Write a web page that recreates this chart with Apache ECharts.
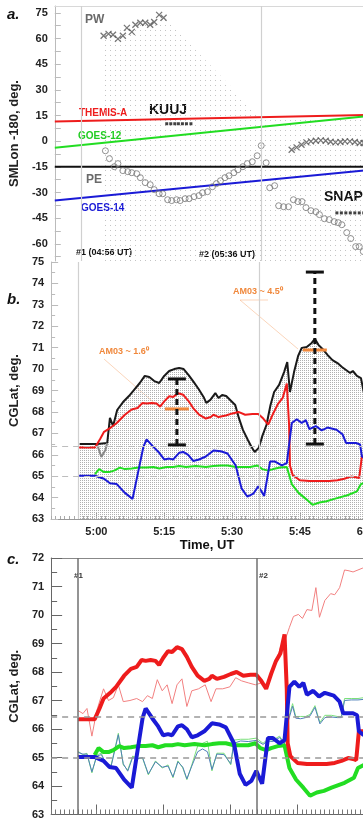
<!DOCTYPE html>
<html>
<head>
<meta charset="utf-8">
<script src="https://cdn.jsdelivr.net/npm/echarts@6/dist/echarts.min.js"></script>
<style>
  html, body { margin: 0; padding: 0; overflow: hidden; background: #fff; }
  #chart { width: 420px; height: 820px; }
</style>
</head>
<body>
<div id="chart"></div>
<script>
// time in minutes of the day (300 = 5:00 UT)
const onsetTimes = [296, 336];          // #1 04:56, #2 05:36
const refLevels = [66.42, 65.0];
const timeTicks = [300, 315, 330, 345, 360];
const smlonLabels = [75, 60, 45, 30, 15, 0, -15, -30, -45, -60];
const smlonTicks = [-67.5, -60, -52.5, -45, -37.5, -30, -22.5, -15, -7.5, 0, 7.5, 15, 22.5, 30, 37.5, 45, 52.5, 60, 67.5, 75];

//#region PANEL A
const pwTime = [300.9, 302.0, 303.0, 304.1, 305.2, 306.1, 307.2, 308.0, 309.1, 310.2, 311.3, 312.2, 313.3, 314.3];
const pwLon = [61.6, 62.7, 62.2, 59.8, 61.6, 66.2, 63.9, 68.0, 69.2, 69.2, 68.0, 69.7, 73.8, 72.1];
const pwLateTime = [342.9, 344.0, 345.1, 346.2, 347.2, 348.3, 349.4, 350.5, 351.6, 352.7, 353.8, 354.8, 355.9, 357.0, 358.1, 359.0];
const pwLateLon = [-5.0, -3.6, -2.1, -0.7, -0.1, 0.3, 0.5, 0.3, -0.3, -0.7, -0.5, -0.1, -0.1, -0.5, -1.1, -1.1];
const peTime = [301.3, 302.2, 303.3, 304.1, 305.2, 306.3, 307.2, 308.3, 309.1, 310.2, 311.3, 312.2, 313.3, 314.1, 315.2,
  316.1, 317.2, 318.0, 319.1, 320.0, 321.1, 322.2, 323.0, 324.1, 325.2, 326.1, 327.0, 328.0, 328.9, 330.0,
  330.9, 332.0, 333.0, 334.1, 335.2, 336.1, 337.2, 338.0, 339.1, 340.0, 341.1, 342.2, 343.3, 344.3, 345.2,
  346.1, 347.2, 348.3, 349.1, 350.2, 351.3, 352.4, 353.3, 354.1, 355.2, 356.1, 357.2, 358.0, 358.9];
const peLon = [-5.6, -10.2, -14.9, -13.1, -17.2, -17.8, -18.4, -19.0, -21.3, -24.2, -25.4, -28.3, -30.7, -30.7, -34.2,
  -34.7, -34.2, -34.7, -33.6, -33.6, -32.4, -31.8, -30.1, -29.5, -26.6, -24.8, -23.1, -21.3, -20.2, -18.4,
  -16.7, -14.9, -13.1, -12.0, -8.5, -2.6, -12.6, -27.2, -26.0, -37.7, -38.3, -38.3, -34.2, -35.3, -35.3,
  -38.8, -40.6, -41.2, -42.9, -45.3, -45.8, -47.0, -47.6, -48.8, -53.4, -56.9, -61.6, -61.6, -64.5];
const satTime = [290, 370];
const themisLon = [11.5, 15.9];
const goes12Lon = [-3.8, 17.4];
const goes14Lon = [-34.7, -14.3];
const refLon = [-15, -15];
const kuujTime = [315.0, 315.9, 316.8, 317.6, 318.5, 319.4, 320.4];
const kuujLon = [10.2, 10.2, 10.2, 10.2, 10.2, 10.2, 10.2];
const snapTime = [353.0, 354.0, 355.0, 356.0, 357.0, 358.0, 359.0];
const snapLon = [-41.9, -41.9, -41.9, -41.9, -41.9, -41.9, -41.9];
const ovalTime = [301, 314.5, 336, 370];
const ovalTop = [62, 72, 14, 14];
//#endregion PANEL A

//#region PANEL B / C
const blackTime = [296.3, 300.2, 302.4, 303.0, 303.7, 304.6, 305.9, 307.2, 308.3, 309.6, 310.7, 311.7, 312.8, 313.9, 315.0,
  316.1, 317.2, 318.3, 319.3, 320.4, 321.5, 322.6, 323.7, 324.3, 325.2, 326.3, 327.0, 327.8, 328.7, 329.8,
  330.7, 331.5, 332.4, 333.5, 334.3, 335.0, 335.9, 336.7, 337.6, 338.5, 339.3, 340.4, 341.5, 342.2, 342.8,
  343.7, 344.6, 345.4, 346.5, 347.6, 348.3, 349.1, 350.0, 351.1, 352.2, 353.3, 354.3, 355.2, 356.1, 356.7,
  357.6, 358.5, 359.1];
const blackLat = [66.50, 66.50, 66.55, 67.72, 67.34, 68.09, 68.46, 68.74, 69.02, 69.35, 69.68, 69.63, 69.44, 69.35, 69.68,
  69.91, 70.00, 70.05, 70.00, 69.72, 69.40, 69.07, 68.70, 68.42, 68.56, 68.88, 68.65, 68.79, 68.74, 68.51,
  68.32, 67.72, 67.16, 66.69, 66.36, 66.13, 66.32, 66.88, 67.39, 68.32, 68.93, 69.26, 69.86, 70.33, 68.93,
  69.86, 70.61, 70.99, 71.03, 71.22, 71.41, 71.13, 70.94, 70.66, 70.42, 70.28, 70.10, 69.96, 69.82, 69.91,
  69.68, 69.58, 68.93];
const greyTime = [300.2, 301.1, 302.0, 302.4];
const greyLat = [66.46, 65.90, 66.22, 66.55];

const redTime = [296.0, 299.7, 300.8, 301.7, 303.2, 304.5, 306.3, 307.8, 309.1, 310.2, 311.1, 312.2, 313.3, 314.1, 315.0,
  316.1, 317.0, 318.1, 319.2, 320.3, 321.4, 322.7, 324.2, 325.3, 325.9, 327.0, 328.6, 330.1, 331.4, 332.9,
  334.5, 335.8, 336.9, 338.0, 339.1, 340.2, 341.2, 342.1, 342.6, 342.8, 343.4, 345.0, 347.1, 349.3, 351.5,
  353.3, 354.8, 356.3, 357.4, 358.1, 358.7, 359.8];
const redLat = [66.34, 66.34, 66.72, 67.07, 67.27, 67.48, 67.87, 68.11, 68.18, 68.42, 68.39, 68.42, 68.39, 68.25, 68.49,
  68.73, 68.70, 68.87, 68.80, 68.53, 68.18, 67.87, 67.69, 67.76, 67.87, 67.76, 67.83, 67.93, 68.00, 67.87,
  67.90, 67.90, 67.69, 67.41, 67.93, 68.39, 68.66, 69.32, 67.41, 65.50, 65.05, 64.81, 64.77, 64.77, 64.77,
  64.81, 64.88, 64.98, 64.95, 64.91, 65.92, 65.92];

const blueTime = [296.0, 299.7, 301.7, 303.0, 304.5, 306.3, 308.0, 310.4, 311.1, 312.6, 313.9, 315.0, 316.1, 317.0, 318.3,
  319.2, 320.3, 321.4, 322.7, 324.2, 325.9, 327.5, 329.0, 330.8, 332.1, 333.4, 334.7, 335.8, 337.1, 338.4,
  339.5, 341.0, 342.1, 343.2, 344.3, 345.4, 346.3, 347.1, 348.5, 349.8, 351.1, 353.1, 354.4, 355.2, 357.4,
  358.3, 358.7, 359.8];
const blueLat = [65.02, 65.02, 64.88, 64.67, 64.63, 64.22, 63.94, 66.37, 66.72, 66.37, 66.09, 65.78, 65.82, 65.78, 66.09,
  66.13, 65.99, 65.71, 65.78, 65.92, 66.20, 66.16, 66.06, 65.50, 64.43, 64.04, 64.18, 64.53, 64.08, 65.68,
  65.68, 65.50, 65.61, 67.48, 67.66, 67.48, 67.62, 67.20, 67.34, 67.14, 67.27, 67.17, 66.96, 66.55, 66.55,
  66.48, 65.92, 65.78];

const greenTime = [299.7, 300.6, 301.7, 302.8, 303.9, 305.2, 306.3, 307.8, 309.3, 311.1, 312.6, 313.9, 315.5, 317.0, 318.3,
  319.8, 322.0, 324.2, 325.9, 327.5, 329.0, 330.8, 332.3, 334.0, 335.6, 336.7, 338.0, 339.1, 340.6, 342.1,
  343.2, 344.7, 346.3, 347.8, 349.3, 350.9, 352.6, 355.5, 357.6, 358.5, 359.8];
const greenLat = [65.09, 65.33, 65.19, 65.19, 65.26, 65.40, 65.33, 65.36, 65.40, 65.40, 65.43, 65.36, 65.43, 65.43, 65.47,
  65.43, 65.47, 65.43, 65.47, 65.50, 65.50, 65.43, 65.43, 65.43, 65.50, 65.33, 65.26, 65.33, 65.40, 65.43,
  64.63, 64.22, 63.94, 63.66, 63.77, 63.83, 63.94, 64.11, 64.29, 64.63, 64.74];

const thinRedTime = [296.0, 297.1, 298.0, 299.1, 300.2, 301.7, 302.8, 303.9, 305.0, 306.1, 307.6, 309.1, 310.4, 311.5, 312.6,
  313.7, 314.8, 315.9, 317.0, 318.1, 319.2, 320.3, 321.4, 322.9, 324.4, 325.7, 326.8, 328.3, 329.9, 331.2,
  332.5, 334.0, 335.6, 336.9, 338.2, 339.3, 340.4, 341.2, 342.3, 343.2, 344.1, 345.2, 346.1, 347.1, 348.2,
  349.1, 349.9, 351.1, 352.4, 353.3, 354.4, 355.5, 356.5, 357.4, 358.5, 359.6];
const thinRedLat = [66.65, 66.54, 66.72, 65.75, 66.65, 67.41, 67.00, 67.10, 67.55, 66.96, 67.00, 67.07, 66.96, 67.17, 67.07,
  67.73, 67.34, 67.55, 66.89, 67.55, 67.76, 66.79, 67.34, 67.41, 67.55, 66.96, 67.41, 67.41, 67.48, 67.80,
  67.69, 67.62, 67.55, 67.62, 67.55, 67.93, 68.46, 68.87, 69.15, 69.57, 69.95, 70.02, 69.88, 70.19, 70.16,
  70.96, 69.92, 70.51, 70.75, 70.71, 70.96, 71.58, 71.55, 71.51, 71.58, 71.65];

const thinTime = [296.0, 297.1, 298.0, 299.1, 300.2, 301.2, 302.3, 303.4, 304.5, 305.0, 306.1, 307.1, 308.2, 309.3, 310.4,
  311.7, 313.3, 314.8, 316.1, 317.2, 318.3, 319.4, 320.3, 321.4, 322.7, 323.8, 324.9, 325.9, 327.0, 328.6,
  330.1, 330.8, 332.3, 334.0, 335.8, 337.3, 338.4, 339.5, 341.0, 342.1, 342.8, 343.9, 344.6, 345.7, 346.8,
  347.8, 348.9, 350.0, 351.1, 352.6, 353.9, 354.8, 355.5, 357.0, 358.5, 359.8];
const thinGreenLat = [65.22, 65.09, 65.15, 64.46, 65.09, 65.15, 64.74, 64.74, 65.50, 65.85, 64.74, 64.56, 65.05, 64.98, 64.98,
  64.39, 64.88, 64.63, 64.74, 64.29, 64.88, 64.63, 64.22, 64.74, 65.40, 65.50, 65.57, 64.53, 65.15, 65.15,
  64.74, 65.61, 65.64, 65.64, 65.68, 65.50, 65.64, 65.61, 65.75, 65.50, 66.27, 66.89, 66.44, 66.44, 66.44,
  66.51, 66.82, 66.23, 66.48, 66.48, 66.44, 66.44, 67.07, 67.07, 67.07, 67.10];
const thinBlueLat = [65.18, 65.12, 65.12, 64.50, 65.05, 65.10, 64.78, 64.70, 65.45, 65.80, 64.78, 64.52, 65.00, 64.95, 65.00,
  64.42, 64.85, 64.66, 64.70, 64.32, 64.85, 64.66, 64.25, 64.70, 65.20, 65.30, 65.20, 64.58, 65.12, 65.10,
  64.78, 65.50, 65.58, 65.56, 65.60, 65.46, 65.58, 65.56, 65.70, 65.48, 66.20, 66.80, 66.38, 66.36, 66.40,
  66.46, 66.76, 66.18, 66.40, 66.42, 66.40, 66.40, 67.00, 67.02, 67.02, 67.04];

const am03Time = [317.8, 348.3];
const am03Low = [66.46, 66.50];
const am03High = [69.54, 74.53];
const am03Level = [68.14, 70.89];
//#endregion PANEL B / C

const FONT = '"Liberation Sans", Arial, sans-serif';
const zip = (ts, vs) => ts.map((t, i) => [t, vs[i]]);
const hhmm = v => Math.floor(v / 60) + ':' + String(Math.round(v % 60)).padStart(2, '0');

function stipple(color, step) {
    const c = document.createElement('canvas');
    c.width = step; c.height = step;
    const g = c.getContext('2d');
    g.fillStyle = color;
    g.fillRect(0, 0, 1, 1);
    return { image: c, repeat: 'repeat' };
}

const tickLabel = { color: '#222', fontWeight: 'bold', fontSize: 11, fontFamily: FONT, margin: 7 };
const axisName = { color: '#222', fontWeight: 'bold', fontSize: 13, fontFamily: FONT };

function line(xi, yi, data, color, width, z) {
    return { type: 'line', xAxisIndex: xi, yAxisIndex: yi, data: data, symbol: 'none',
             lineStyle: { color: color, width: width }, z: z || 2 };
}

function onsetMarks(color, width, levelColor, levelWidth) {
    return {
        silent: true, symbol: ['none', 'none'], label: { show: false },
        data: onsetTimes.map(t => ({ xAxis: t, lineStyle: { color: color, width: width, type: 'solid' } }))
            .concat(levelColor ? refLevels.map(v => ({ yAxis: v, lineStyle: { color: levelColor, width: levelWidth, type: [6, 5] } })) : [])
    };
}

const chart = echarts.init(document.getElementById('chart'));

chart.setOption({
    animation: false,
    grid: [
        { left: 45, top: 6, width: 368, height: 255 },
        { left: 45, top: 262, width: 368, height: 257 },
        { left: 43.5, top: 558, width: 366, height: 259 }
    ],
    xAxis: [
        { gridIndex: 0, type: 'value', min: 290, max: 370, position: 'top',
          axisLine: { onZero: false, lineStyle: { color: '#d8d8d8' } }, axisTick: { show: false },
          axisLabel: { show: false }, splitLine: { show: false } },
        { gridIndex: 1, type: 'value', min: 290, max: 370, position: 'bottom',
          axisLine: { onZero: false, lineStyle: { color: '#999' } },
          axisTick: { inside: true, length: 6, customValues: timeTicks, lineStyle: { color: '#999' } },
          axisLabel: Object.assign({ customValues: timeTicks, formatter: hhmm }, tickLabel),
          splitLine: { show: false } },
        { gridIndex: 1, type: 'value', min: 290, max: 370, interval: 1, position: 'bottom',
          axisLine: { show: false }, axisTick: { inside: true, length: 3, lineStyle: { color: '#aaa' } },
          axisLabel: { show: false }, splitLine: { show: false } },
        { gridIndex: 2, type: 'value', min: 290, max: 370, position: 'bottom',
          axisLine: { onZero: false, lineStyle: { color: '#666' } },
          axisTick: { inside: true, length: 10, customValues: timeTicks, lineStyle: { color: '#666' } },
          axisLabel: { show: false }, splitLine: { show: false } },
        { gridIndex: 2, type: 'value', min: 290, max: 370, interval: 1, position: 'bottom',
          axisLine: { show: false }, axisTick: { inside: true, length: 5, lineStyle: { color: '#777' } },
          axisLabel: { show: false }, splitLine: { show: false } },
        { gridIndex: 2, type: 'value', min: 290, max: 370, position: 'top',
          axisLine: { onZero: false, lineStyle: { color: '#888' } }, axisTick: { show: false },
          axisLabel: { show: false }, splitLine: { show: false } }
    ],
    yAxis: [
        { gridIndex: 0, type: 'value', min: -70, max: 79, position: 'left',
          axisLine: { show: true, onZero: false, lineStyle: { color: '#bbb' } },
          axisTick: { show: true, inside: true, length: 6, customValues: smlonTicks, lineStyle: { color: '#bbb' } },
          axisLabel: Object.assign({ customValues: smlonLabels }, tickLabel),
          splitLine: { show: false },
          name: 'SMLon -180, deg.', nameLocation: 'middle', nameGap: 24, nameTextStyle: axisName },
        { gridIndex: 1, type: 'value', min: 63, max: 75, interval: 1, position: 'left',
          axisLine: { show: true, onZero: false, lineStyle: { color: '#bbb' } },
          axisTick: { show: true, inside: true, length: 7, lineStyle: { color: '#bbb' } },
          minorTick: { show: true, splitNumber: 2, length: 4, lineStyle: { color: '#bbb' } },
          axisLabel: tickLabel, splitLine: { show: false },
          name: 'CGLat, deg.', nameLocation: 'middle', nameGap: 24,
          nameTextStyle: Object.assign({ padding: [0, 0, 0, 0] }, axisName) },
        { gridIndex: 2, type: 'value', min: 63, max: 72, interval: 1, position: 'left',
          axisLine: { show: true, onZero: false, lineStyle: { color: '#666' } },
          axisTick: { show: true, inside: true, length: 11, lineStyle: { color: '#666' } },
          minorTick: { show: true, splitNumber: 2, length: 6, lineStyle: { color: '#666' } },
          axisLabel: tickLabel, splitLine: { show: false },
          name: 'CGLat, deg.', nameLocation: 'middle', nameGap: 24, nameTextStyle: axisName }
    ],
    series: [
        // ---- panel a
        { type: 'line', xAxisIndex: 0, yAxisIndex: 0, data: zip(ovalTime, ovalTop), symbol: 'none',
          lineStyle: { width: 0 }, areaStyle: { color: stipple('#c4c4c4', 5), origin: 'start', opacity: 1 },
          markLine: onsetMarks('#d0d0d0', 1.2), z: 1 },
        line(0, 0, zip(satTime, themisLon), '#ee1c1c', 2),
        line(0, 0, zip(satTime, goes12Lon), '#22dd22', 2),
        line(0, 0, zip(satTime, refLon), '#111', 2),
        line(0, 0, zip(satTime, goes14Lon), '#1a1ad6', 2),
        { type: 'scatter', xAxisIndex: 0, yAxisIndex: 0, data: zip(pwTime, pwLon).concat(zip(pwLateTime, pwLateLon)),
          symbol: 'path://M0,0L10,10M10,0L0,10', symbolSize: 6,
          itemStyle: { color: 'none', borderColor: '#555', borderWidth: 1.3 }, z: 3 },
        { type: 'scatter', xAxisIndex: 0, yAxisIndex: 0, data: zip(peTime, peLon), symbol: 'circle', symbolSize: 6,
          itemStyle: { color: 'rgba(255,255,255,0)', borderColor: '#777', borderWidth: 1 }, z: 3 },
        { type: 'scatter', xAxisIndex: 0, yAxisIndex: 0, data: zip(kuujTime, kuujLon).concat(zip(snapTime, snapLon)),
          symbol: 'rect', symbolSize: 3, itemStyle: { color: '#111' }, z: 3 },

        // ---- panel b
        { type: 'line', xAxisIndex: 1, yAxisIndex: 1, data: zip(blackTime, blackLat), symbol: 'none',
          lineStyle: { color: '#1a1a1a', width: 2 },
          areaStyle: { color: stipple('#b0b0b0', 2), origin: 'start', opacity: 1 },
          markLine: onsetMarks('#d0d0d0', 1.2, '#bdbdbd', 1), z: 2 },
        line(1, 1, zip(greyTime, greyLat), '#888', 2),
        line(1, 1, zip(redTime, redLat), '#ee1c1c', 2, 3),
        line(1, 1, zip(greenTime, greenLat), '#22dd22', 2, 3),
        line(1, 1, zip(blueTime, blueLat), '#1a1ad6', 2, 3),
        { type: 'custom', xAxisIndex: 1, yAxisIndex: 1, z: 5,
          data: am03Time.map((t, i) => [t, am03Low[i], am03High[i], am03Level[i]]),
          renderItem: (params, api) => {
              const lo = api.coord([api.value(0), api.value(1)]);
              const hi = api.coord([api.value(0), api.value(2)]);
              const mid = api.coord([api.value(0), api.value(3)]);
              const x = lo[0];
              return { type: 'group', children: [
                  { type: 'line', shape: { x1: x - 12, y1: mid[1], x2: x + 12, y2: mid[1] }, style: { stroke: '#f0883c', lineWidth: 3 } },
                  { type: 'line', shape: { x1: x, y1: lo[1], x2: x, y2: hi[1] }, style: { stroke: '#111', lineWidth: 3, lineDash: [6, 4] } },
                  { type: 'line', shape: { x1: x - 9, y1: hi[1], x2: x + 9, y2: hi[1] }, style: { stroke: '#111', lineWidth: 3 } },
                  { type: 'line', shape: { x1: x - 9, y1: lo[1], x2: x + 9, y2: lo[1] }, style: { stroke: '#111', lineWidth: 3 } }
              ] };
          } },

        // ---- panel c
        { type: 'line', xAxisIndex: 3, yAxisIndex: 2, data: zip(thinRedTime, thinRedLat), symbol: 'none',
          lineStyle: { color: '#f28080', width: 1 }, markLine: onsetMarks('#707070', 1.5, '#999', 1.5), z: 2 },
        line(3, 2, zip(thinTime, thinGreenLat), '#7be07b', 1),
        line(3, 2, zip(thinTime, thinBlueLat), '#4f7fb8', 1),
        line(3, 2, zip(greenTime, greenLat), '#22dd22', 4, 3),
        line(3, 2, zip(redTime, redLat), '#ee1c1c', 4, 3),
        line(3, 2, zip(blueTime, blueLat), '#1a1ad6', 4, 3)
    ],
    graphic: [
        { type: 'text', x: 7, y: 15, style: { text: 'a.', font: 'italic bold 15px ' + FONT, fill: '#111', textVerticalAlign: 'middle' } },
        { type: 'text', x: 7, y: 300, style: { text: 'b.', font: 'italic bold 15px ' + FONT, fill: '#111', textVerticalAlign: 'middle' } },
        { type: 'text', x: 7, y: 560, style: { text: 'c.', font: 'italic bold 15px ' + FONT, fill: '#111', textVerticalAlign: 'middle' } },
        { type: 'text', x: 85, y: 20, style: { text: 'PW', font: 'bold 12px ' + FONT, fill: '#6a6a6a', textVerticalAlign: 'middle' } },
        { type: 'text', x: 79, y: 113, style: { text: 'THEMIS-A', font: 'bold 10px ' + FONT, fill: '#ee1c1c', textVerticalAlign: 'middle' } },
        { type: 'text', x: 149, y: 110, style: { text: 'KUUJ', font: 'bold 14px ' + FONT, fill: '#111', textVerticalAlign: 'middle' } },
        { type: 'text', x: 78, y: 136, style: { text: 'GOES-12', font: 'bold 10px ' + FONT, fill: '#22cc22', textVerticalAlign: 'middle' } },
        { type: 'text', x: 86, y: 180, style: { text: 'PE', font: 'bold 12px ' + FONT, fill: '#6a6a6a', textVerticalAlign: 'middle' } },
        { type: 'text', x: 81, y: 208, style: { text: 'GOES-14', font: 'bold 10px ' + FONT, fill: '#1a1ad6', textVerticalAlign: 'middle' } },
        { type: 'text', x: 324, y: 197, style: { text: 'SNAP', font: 'bold 14px ' + FONT, fill: '#111', textVerticalAlign: 'middle' } },
        { type: 'text', x: 76, y: 253, style: { text: '#1 (04:56 UT)', font: 'bold 9px ' + FONT, fill: '#111', textVerticalAlign: 'middle' } },
        { type: 'text', x: 199, y: 255, style: { text: '#2 (05:36 UT)', font: 'bold 9px ' + FONT, fill: '#111', textVerticalAlign: 'middle' } },
        { type: 'polyline', shape: { points: [[104, 359], [160, 408]] }, style: { stroke: 'rgba(240,136,60,0.35)', lineWidth: 1 } },
        { type: 'polyline', shape: { points: [[268, 300], [240, 300], [298, 349]] }, style: { stroke: 'rgba(240,136,60,0.35)', lineWidth: 1 } },
        { type: 'text', x: 99, y: 352, style: { text: 'AM03 ~ 1.6\u2070', font: 'bold 9px ' + FONT, fill: '#f0883c', textVerticalAlign: 'middle' } },
        { type: 'text', x: 233, y: 292, style: { text: 'AM03 ~ 4.5\u2070', font: 'bold 9px ' + FONT, fill: '#f0883c', textVerticalAlign: 'middle' } },
        { type: 'text', x: 207, y: 545, style: { text: 'Time, UT', font: 'bold 13px ' + FONT, fill: '#111', textAlign: 'center', textVerticalAlign: 'middle' } },
        { type: 'text', x: 74, y: 576, style: { text: '#1', font: 'bold 8px ' + FONT, fill: '#333', textVerticalAlign: 'middle' } },
        { type: 'text', x: 259, y: 576, style: { text: '#2', font: 'bold 8px ' + FONT, fill: '#333', textVerticalAlign: 'middle' } }
    ]
});
</script>
</body>
</html>
